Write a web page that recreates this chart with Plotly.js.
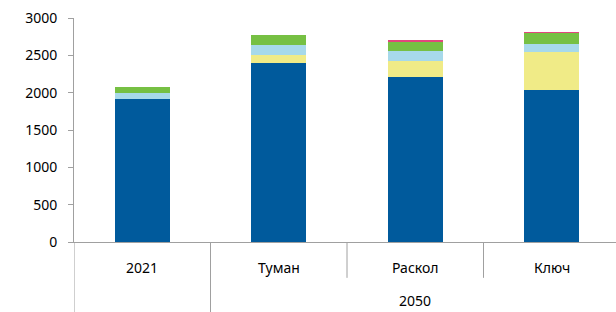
<!DOCTYPE html>
<html>
<head>
<meta charset="utf-8">
<script src="https://cdn.plot.ly/plotly-3.0.1.min.js"></script>
<style>
html,body{margin:0;padding:0;overflow:hidden;background:#fff;}
#chart{width:620px;height:312px;}
</style>
</head>
<body>
<div id="chart"></div>
<script>
const categories = ["2021", "Туман", "Раскол", "Ключ"];
const groupLabel = "2050";
const blueVals = [1920, 2395, 2212, 2035];
const yellowVals = [0, 110, 210, 515];
const lightBlueVals = [70, 135, 135, 100];
const greenVals = [90, 132, 125, 148];
const pinkVals = [0, 6, 18, 18];
const yTicks = [0, 500, 1000, 1500, 2000, 2500, 3000];

const colors = ["#005a9c", "#f0eb87", "#a7d9ea", "#76c043", "#e2467c"];
const seriesVals = [blueVals, yellowVals, lightBlueVals, greenVals, pinkVals];

const traces = seriesVals.map((vals, i) => ({
  type: "bar",
  x: categories,
  y: vals,
  marker: {color: colors[i], line: {width: 0}},
  hoverinfo: "none"
}));

const font = {family: "Noto Sans, sans-serif", size: 14, color: "#000"};
const lineColor = "#a0a0a0";

const shapes = [];
for (let i = 0; i < categories.length; i++) {
  const full = (i === 0 || i === 1);
  shapes.push({
    type: "line", xref: "x", yref: "paper",
    x0: i - 0.5, x1: i - 0.5, y0: 0, y1: full ? -0.32 : -0.16,
    line: {color: lineColor, width: 1}
  });
}

const layout = {
  width: 620, height: 312,
  margin: {l: 74, r: 0, t: 18, b: 70},
  barmode: "stack",
  bargap: 0.6,
  showlegend: false,
  paper_bgcolor: "#fff",
  plot_bgcolor: "#fff",
  font: font,
  xaxis: {
    type: "category",
    range: [-0.5, categories.length - 0.5],
    showline: true, linecolor: lineColor, linewidth: 1,
    showgrid: false, zeroline: false,
    ticks: "", showticklabels: false,
    fixedrange: true
  },
  yaxis: {
    range: [0, 3000],
    tickvals: yTicks,
    ticktext: yTicks.map(String),
    showline: true, linecolor: lineColor, linewidth: 1,
    ticks: "outside", ticklen: 5, tickcolor: lineColor,
    showgrid: false, zeroline: false,
    tickfont: font,
    ticklabelstandoff: 8,
    fixedrange: true
  },
  shapes: shapes,
  annotations: categories.map((c, i) => ({
    x: i, xref: "x", y: -0.115, yref: "paper",
    text: c, showarrow: false, font: font,
    xanchor: "center", yanchor: "middle"
  })).concat([{
    x: 2, xref: "x", y: -0.26, yref: "paper",
    text: groupLabel, showarrow: false, font: font,
    xanchor: "center", yanchor: "middle"
  }])
};

Plotly.newPlot("chart", traces, layout, {displayModeBar: false, staticPlot: true});
</script>
</body>
</html>
